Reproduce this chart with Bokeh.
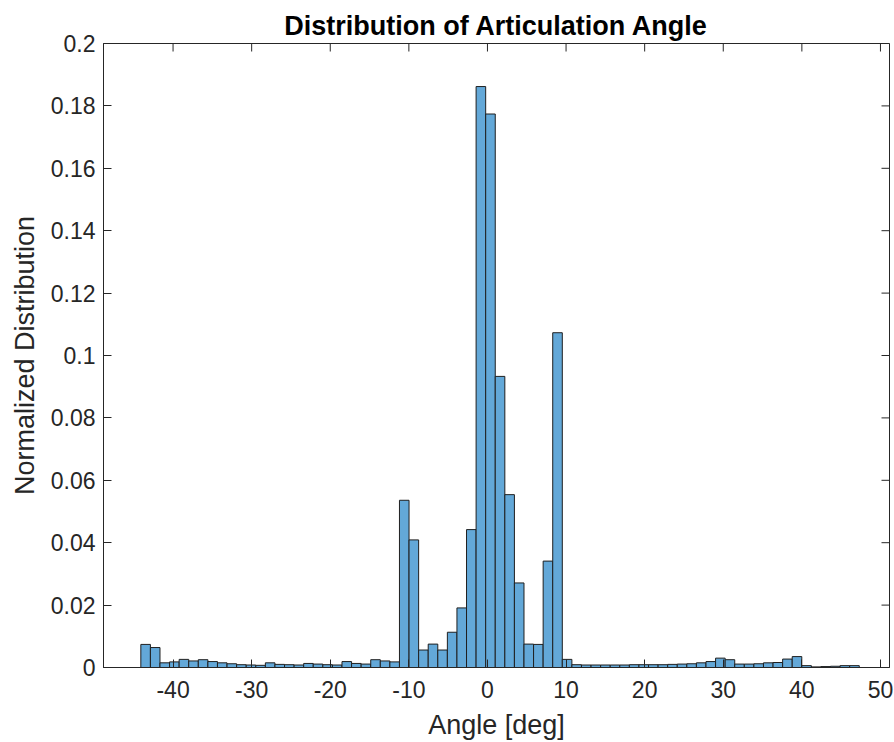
import math
from bokeh.plotting import figure
from bokeh.models import FixedTicker, ColumnDataSource
from bokeh.embed import file_html
from bokeh.resources import INLINE

# ---- data ----
bin_start = -44.1
bin_width = 1.2187
heights = [
    0.0074, 0.0064, 0.0015, 0.0018, 0.0026, 0.0021, 0.0025, 0.0019, 0.0015, 0.0012,
    0.0009, 0.0008, 0.0007, 0.0015, 0.0010, 0.0009, 0.0008, 0.0013, 0.0011, 0.0009,
    0.0008, 0.0019, 0.0013, 0.0011, 0.0025, 0.0021, 0.0018, 0.0536, 0.0409, 0.0056,
    0.0075, 0.0056, 0.0113, 0.0191, 0.0442, 0.1862, 0.1774, 0.0933, 0.0554, 0.0271,
    0.0075, 0.0074, 0.0341, 0.1073, 0.0026, 0.0009, 0.0008, 0.0008, 0.0008, 0.0008,
    0.0008, 0.0009, 0.0009, 0.0009, 0.0009, 0.0010, 0.0011, 0.0012, 0.0015, 0.0019,
    0.0030, 0.0025, 0.0011, 0.0011, 0.0012, 0.0015, 0.0016, 0.0027, 0.0035, 0.0006,
    0.0002, 0.0003, 0.0004, 0.0006, 0.0006,
]
x_ticks = [-40, -30, -20, -10, 0, 10, 20, 30, 40, 50]
x_tick_labels = ["-40", "-30", "-20", "-10", "0", "10", "20", "30", "40", "50"]
y_ticks = [0, 0.02, 0.04, 0.06, 0.08, 0.1, 0.12, 0.14, 0.16, 0.18, 0.2]
y_tick_labels = ["0", "0.02", "0.04", "0.06", "0.08", "0.1", "0.12", "0.14", "0.16", "0.18", "0.2"]
x_min, x_max = -48.85, 51.15
y_min, y_max = 0, 0.2

lefts = [bin_start + i * bin_width for i in range(len(heights))]
rights = [l + bin_width for l in lefts]
src = ColumnDataSource(dict(left=lefts, right=rights, top=heights, bottom=[0] * len(heights)))

FONT = "Liberation Sans"
AX = "#262626"

p = figure(width=894, height=742, output_backend="svg", toolbar_location=None,
           x_range=(x_min, x_max), y_range=(y_min, y_max),
           min_border_left=103, min_border_right=5, min_border_top=43, min_border_bottom=75)
p.background_fill_color = "white"
p.border_fill_color = "white"
p.outline_line_color = AX
p.outline_line_width = 1
p.xgrid.visible = False
p.ygrid.visible = False

p.quad(left="left", right="right", top="top", bottom="bottom", source=src,
       fill_color="#63A8D8", line_color="#1F1F1F", line_width=1)

# inward tick marks on the top and right edges of the box (clipped to the frame)
p.scatter(x=x_ticks, y=[y_max] * len(x_ticks), marker="dash", angle=math.pi / 2,
          size=16, line_color=AX, line_width=1)
p.scatter(x=[x_max] * len(y_ticks), y=y_ticks, marker="dash",
          size=16, line_color=AX, line_width=1)

p.title.text = "Distribution of Articulation Angle"
p.title.align = "center"
p.title.text_font = FONT
p.title.text_font_size = "27px"
p.title.text_font_style = "bold"
p.title.text_color = "black"
p.title.standoff = 6

def style_axis(ax):
    ax.axis_line_color = AX
    ax.major_tick_line_color = AX
    ax.major_tick_in = 8
    ax.major_tick_out = 0
    ax.minor_tick_line_color = None
    ax.major_label_text_font = FONT
    ax.major_label_text_color = AX
    ax.major_label_text_font_size = "23px"

xa = p.xaxis[0]
xa.ticker = FixedTicker(ticks=x_ticks)
xa.major_label_overrides = dict(zip(x_ticks, x_tick_labels))
style_axis(xa)
xa.major_label_standoff = 13
xa.axis_label = "Angle [deg]"
xa.axis_label_text_font = FONT
xa.axis_label_text_font_size = "27px"
xa.axis_label_text_font_style = "normal"
xa.axis_label_text_color = AX
xa.axis_label_standoff = 9

ya = p.yaxis[0]
ya.ticker = FixedTicker(ticks=y_ticks)
ya.major_label_overrides = dict(zip(y_ticks, y_tick_labels))
style_axis(ya)
ya.major_label_standoff = 8
ya.axis_label = "Normalized Distribution"
ya.axis_label_text_font = FONT
ya.axis_label_text_font_size = "27px"
ya.axis_label_text_font_style = "normal"
ya.axis_label_text_color = AX
ya.axis_label_standoff = 8

open("out.html", "w").write(file_html(p, INLINE))
